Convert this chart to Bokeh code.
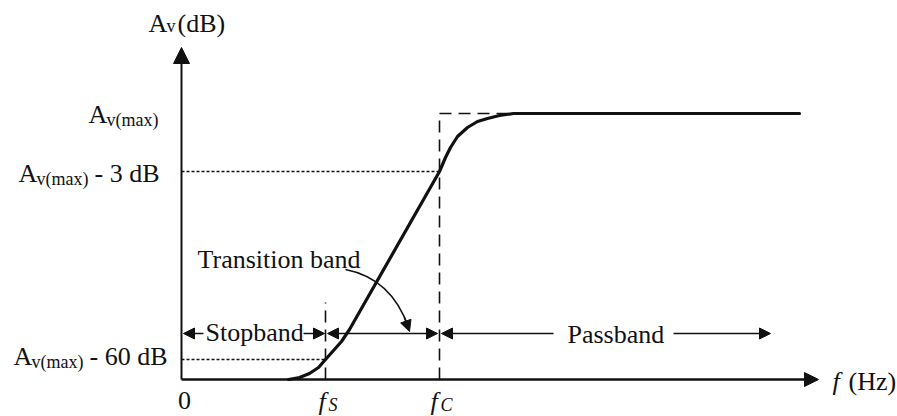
from bokeh.plotting import figure
from bokeh.models import Arrow, NormalHead
from bokeh.core.properties import value
from bokeh.embed import file_html
from bokeh.resources import INLINE

# ---- schematic data (units: origin at axes crossing) ----
f_s = 144          # stopband edge frequency position
f_c = 258          # cutoff frequency position
f_knee = 332       # where response reaches Av(max)
f_axis_max = 637   # x-axis arrow tip
db_axis_max = 332  # y-axis arrow tip
lvl_max = 266      # Av(max)
lvl_3db = 208      # Av(max) - 3 dB
lvl_60db = 20      # Av(max) - 60 dB
fs_mark_top = 77
band_row = 46

resp_f = [107, 118, 128, 137, 144, 152, 160, 168, 258, 264, 269, 276, 286, 296, 306, 318, 332, 618]
resp_db = [0, 2, 6, 12, 20, 29, 38, 50, 208, 222, 232, 243, 252, 258, 261, 264, 266, 266]

FONT = value("Liberation Serif")
BLACK = "#111111"
TEXT_DY = 9

p = figure(width=897, height=416, x_range=(-181, 716), y_range=(-37, 379),
           min_border=0, toolbar_location=None, output_backend="svg")
p.axis.visible = False
p.grid.visible = False
p.outline_line_color = None
p.background_fill_color = "white"
p.border_fill_color = "white"

# axes with arrows
p.add_layout(Arrow(x_start=0, y_start=0, x_end=0, y_end=db_axis_max, line_width=2, line_color=BLACK,
                   end=NormalHead(size=16, fill_color=BLACK, line_color=BLACK)))
p.add_layout(Arrow(x_start=0, y_start=0, x_end=f_axis_max, y_end=0, line_width=2.5, line_color=BLACK,
                   end=NormalHead(size=14, fill_color=BLACK, line_color=BLACK)))

# ideal response (dashed) and reference lines
p.line([f_c, f_c, f_knee], [0, lvl_max, lvl_max], line_dash="12 7", line_width=1.6, line_color=BLACK)
p.line([f_s, f_s], [0, fs_mark_top], line_dash="12 7", line_width=1.6, line_color=BLACK)
p.line([0, f_c], [lvl_3db, lvl_3db], line_dash="3 2", line_width=1.6, line_color=BLACK)
p.line([0, f_s], [lvl_60db, lvl_60db], line_dash="3 2", line_width=1.6, line_color=BLACK)

# actual response
p.line(resp_f, resp_db, line_width=3.2, line_color=BLACK, line_join="round", line_cap="round")

def head():
    return NormalHead(size=11, fill_color=BLACK, line_color=BLACK, line_width=1)

# band arrows
p.add_layout(Arrow(x_start=22, y_start=band_row, x_end=2, y_end=band_row, line_width=1.5,
                   line_color=BLACK, end=head()))
p.add_layout(Arrow(x_start=122, y_start=band_row, x_end=f_s - 1, y_end=band_row, line_width=1.5,
                   line_color=BLACK, end=head()))
p.add_layout(Arrow(x_start=f_s + 2, y_start=band_row, x_end=f_c - 2, y_end=band_row, line_width=1.5,
                   line_color=BLACK, start=head(), end=head()))
p.add_layout(Arrow(x_start=372, y_start=band_row, x_end=f_c + 2, y_end=band_row, line_width=1.5,
                   line_color=BLACK, end=head()))
p.add_layout(Arrow(x_start=492, y_start=band_row, x_end=589, y_end=band_row, line_width=1.5,
                   line_color=BLACK, end=head()))

# curved pointer for "Transition band"
p.quadratic(x0=[164], y0=[110], x1=[227], y1=[52], cx=[210], cy=[101], line_width=1.6, line_color=BLACK)
p.add_layout(Arrow(x_start=223, y_start=62, x_end=228, y_end=48, line_width=1.5,
                   line_color=BLACK, end=head()))

def txt(x, y, s, size="26px", style="normal", align="left"):
    p.text(x=[x], y=[y + TEXT_DY], text=[s], text_font=FONT, text_font_size=size, text_font_style=style,
           text_color=BLACK, text_align=align, text_baseline="alphabetic")

# y-axis title
txt(-33, 347, "A")
txt(-15, 345, "v", size="18px")
txt(-4, 347, "(dB)")

# level labels
txt(-93, 256, "A")
txt(-75, 251, "v(max)", size="18px")

txt(-163, 197, "A")
txt(-145, 192, "v(max)", size="18px")
txt(-87, 197, "- 3 dB")

txt(-168, 14, "A")
txt(-150, 9, "v(max)", size="18px")
txt(-92, 14, "- 60 dB")

# x labels
txt(3, -30, "0", align="center")
txt(137, -31, "f", style="italic")
txt(147, -34, "S", size="18px", style="italic")
txt(249, -31, "f", style="italic")
txt(259, -34, "C", size="18px", style="italic")
txt(651, -11, "f", style="italic")
txt(667, -11, "(Hz)")

# band labels
txt(16, 111, "Transition band")
txt(24, 38, "Stopband")
txt(386, 36, "Passband")

open("out.html", "w").write(file_html(p, INLINE))
